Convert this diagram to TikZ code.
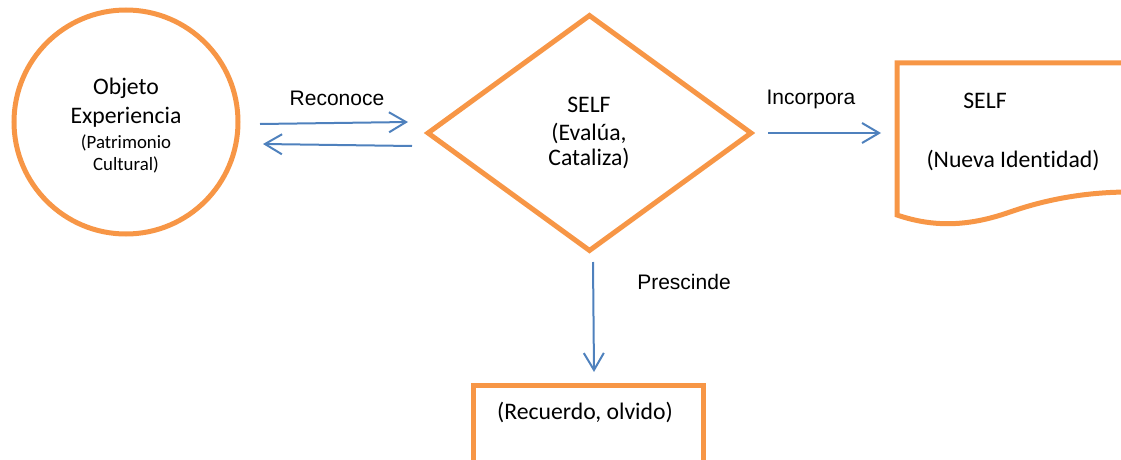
\documentclass[tikz,border=0pt]{standalone}
\usepackage{fontspec}
\setmainfont{Carlito}[Ligatures=NoCommon]
\newfontfamily\arialf{Liberation Sans}
\usetikzlibrary{shapes.geometric,arrows.meta}
\definecolor{orng}{HTML}{F79646}
\definecolor{blu}{HTML}{4F81BD}
\tikzset{
  shapeline/.style={draw=orng,line width=5pt,line join=miter},
  conn/.style={draw=blu,line width=2pt,-{Straight Barb[length=17pt,width=20pt,line width=2pt]}},
  lbl/.style={inner sep=0pt,font=\arialf\fontsize{21}{25}\selectfont},
  txt/.style={inner sep=0pt,font=\fontsize{23.7}{28}\selectfont},
  stxt/.style={inner sep=0pt,font=\fontsize{18.8}{22}\selectfont},
}
\begin{document}
\begin{tikzpicture}[x=1pt,y=-1pt]
\useasboundingbox (0,0) rectangle (1121,460);
\clip (0,0) rectangle (1121,460);
% circle
\node[shapeline,circle,minimum size=224pt,inner sep=0pt] (obj) at (126,122) {};
\node[txt] (t1) at (126,88) {Objeto};
\node[txt] (t2) at (126,117) {Experiencia};
\node[stxt] (t3) at (126,143) {(Patrimonio};
\node[stxt] (t4) at (126,165) {Cultural)};
% diamond
\node[shapeline,diamond,minimum width=325pt,minimum height=237pt,inner sep=0pt,aspect=1.37] (self) at (589.5,133) {};
\node[txt] (s1) at (589,105) {SELF};
\node[txt] (s2) at (589,133) {(Evalúa,};
\node[txt] (s3) at (589,158) {Cataliza)};
% document shape
\coordinate (dtl) at (897,63);
\coordinate (dtr) at (1130,63);
\coordinate (dbl) at (897,215);
\coordinate (dbr) at (1130,192);
\draw[shapeline] (dtr) -- (dtl) -- (dbl) .. controls (935,228) and (970,226) .. (1010,212) .. controls (1050,198) and (1090,192) .. (dbr);
\node[txt] (d1) at (985,101) {SELF};
\node[txt] (d2) at (1013,160) {(Nueva Identidad)};
% bottom box
\coordinate (btl) at (473,385);
\coordinate (btr) at (703,385);
\coordinate (bbl) at (473,470);
\coordinate (bbr) at (703,470);
\draw[shapeline] (bbl) -- (btl) -- (btr) -- (bbr);
\node[txt] (r1) at (585,412) {(Recuerdo, olvido)};
% connectors
\coordinate (a1s) at (260,124);
\coordinate (a1e) at (408,122);
\coordinate (a2s) at (412,146);
\coordinate (a2e) at (263,144);
\draw[conn] (a1s) -- (a1e);
\draw[conn] (a2s) -- (a2e);
\node[lbl] (l1) at (337,98) {Reconoce};
\coordinate (a3s) at (768,133);
\coordinate (a3e) at (881,133);
\draw[conn] (a3s) -- (a3e);
\node[lbl] (l2) at (811,99) {Incorpora};
\coordinate (a4s) at (593,262);
\coordinate (a4e) at (594,372);
\draw[conn] (a4s) -- (a4e);
\node[lbl] (l3) at (684,282) {Prescinde};
\end{tikzpicture}
\end{document}
